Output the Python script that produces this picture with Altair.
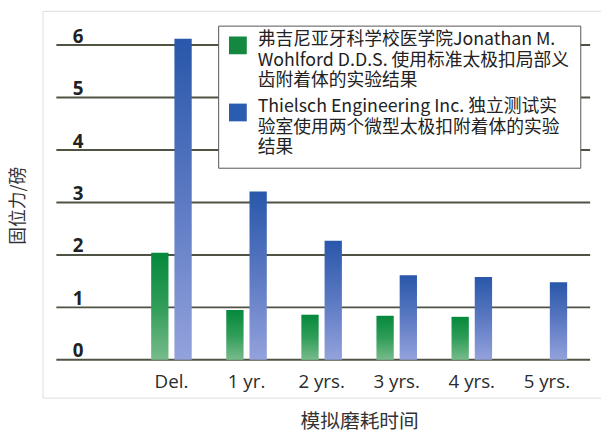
import json
import altair as alt
import pandas as pd

periods = ["Del.", "1 yr.", "2 yrs.", "3 yrs.", "4 yrs.", "5 yrs."]
series_names = [
    "弗吉尼亚牙科学校医学院Jonathan M. Wohlford D.D.S. 使用标准太极扣局部义齿附着体的实验结果",
    "Thielsch Engineering Inc. 独立测试实验室使用两个微型太极扣附着体的实验结果",
]
legend_lines_a = ["弗吉尼亚牙科学校医学院Jonathan M.", "Wohlford D.D.S. 使用标准太极扣局部义\u00a0\u00a0\u00a0", "齿附着体的实验结果"]
legend_lines_b = ["Thielsch Engineering Inc. 独立测试实", "验室使用两个微型太极扣附着体的实验", "结果"]
green_values = [2.04, 0.95, 0.86, 0.84, 0.82, None]
blue_values = [6.12, 3.21, 2.27, 1.61, 1.58, 1.48]
y_ticks = [0, 1, 2, 3, 4, 5, 6]

rows = []
for p, g, b in zip(periods, green_values, blue_values):
    if g is not None:
        rows.append({"period": p, "series": series_names[0], "value": g})
    if b is not None:
        rows.append({"period": p, "series": series_names[1], "value": b})
df = pd.DataFrame(rows)
ticks_df = pd.DataFrame({"value": y_ticks})

x_enc = alt.X(
    "period:N", sort=periods,
    scale=alt.Scale(domain=periods, range=[92.6, 549.2], paddingInner=0.46, paddingOuter=0.23),
    axis=alt.Axis(title="模拟磨耗时间", domain=False, ticks=False, grid=False, labelAngle=0,
                  labelFont="Open Sans", labelFontSize=19, labelColor="#2b2b2b",
                  labelPadding=-10, labelBaseline="alphabetic",
                  titleFont="Noto Sans CJK SC", titleFontSize=20, titleFontWeight="normal",
                  titleColor="#333333", titleY=24, titleBaseline="middle"),
)
xoff_enc = alt.XOffset("series:N", sort=series_names,
                       scale=alt.Scale(domain=series_names, paddingInner=0.255, paddingOuter=0))
y_enc = alt.Y(
    "value:Q",
    scale=alt.Scale(domain=[0, 6], range=[353.7, 34.7], nice=False, zero=True),
    axis=alt.Axis(title="固位力/磅", values=y_ticks, grid=False, domain=False, ticks=False,
                  labelAlign="left", labelPadding=-30, labelBaseline="alphabetic", labelOffset=-3,
                  labelFont="Open Sans", labelFontSize=19, labelFontWeight="bold", labelColor="#222222",
                  titleFont="Noto Sans CJK SC", titleFontSize=18, titleFontWeight="normal",
                  titleColor="#333333", titleX=-24, titleY=197, titleBaseline="middle"),
)

green_grad = {"gradient": "linear", "x1": 0, "y1": 0, "x2": 0, "y2": 1,
              "stops": [{"offset": 0, "color": "#05893c"}, {"offset": 0.5, "color": "#2f9d58"},
                        {"offset": 1, "color": "#78bb8c"}]}
blue_grad = {"gradient": "linear", "x1": 0, "y1": 0, "x2": 0, "y2": 1,
             "stops": [{"offset": 0, "color": "#2957aa"}, {"offset": 0.5, "color": "#5b79c2"},
                       {"offset": 1, "color": "#93a2dc"}]}

label_expr = (f"datum.value == {json.dumps(series_names[0], ensure_ascii=False)} ? "
              f"{json.dumps(legend_lines_a, ensure_ascii=False)} : {json.dumps(legend_lines_b, ensure_ascii=False)}")

grid = alt.Chart(ticks_df).mark_rule(color="#4f5344", strokeWidth=2).encode(
    y=y_enc, x=alt.value(14), x2=alt.value(555)
)

legend_layer = alt.Chart(df).mark_bar(opacity=0).encode(
    x=x_enc, xOffset=xoff_enc, y=y_enc,
    color=alt.Color("series:N", scale=alt.Scale(domain=series_names, range=["#13883e", "#2a5db0"]),
                    legend=alt.Legend(orient="none", legendX=178, legendY=15, title=None,
                                      direction="vertical", fillColor="white", strokeColor="#555555",
                                      padding=11, symbolType="square", symbolSize=324,
                                      symbolStrokeWidth=0, symbolOpacity=1,
                                      labelFont="Noto Sans CJK SC", labelFontSize=18,
                                      labelColor="#222222", labelLimit=440, labelOffset=11,
                                      labelBaseline="alphabetic", rowPadding=9,
                                      labelExpr=label_expr)),
)

green_bars = alt.Chart(df).transform_filter(alt.datum.series == series_names[0]).mark_bar(
    color=green_grad).encode(x=x_enc, xOffset=xoff_enc, y=y_enc)
blue_bars = alt.Chart(df).transform_filter(alt.datum.series == series_names[1]).mark_bar(
    color=blue_grad).encode(x=x_enc, xOffset=xoff_enc, y=y_enc)

chart = alt.layer(grid, legend_layer, green_bars, blue_bars).properties(
    width=566, height=392,
    padding={"left": 35, "top": 0, "right": 0, "bottom": 35},
    autosize=alt.AutoSizeParams(type="none"),
    background="white",
).configure_view(
    fill="#d9e1c6", stroke="#2f9a50", strokeWidth=2.5
).configure(
    style={"guide-label": {"lineHeight": 20.5}}
)

chart.save("out.html", embed_options={"renderer": "svg", "actions": False})
